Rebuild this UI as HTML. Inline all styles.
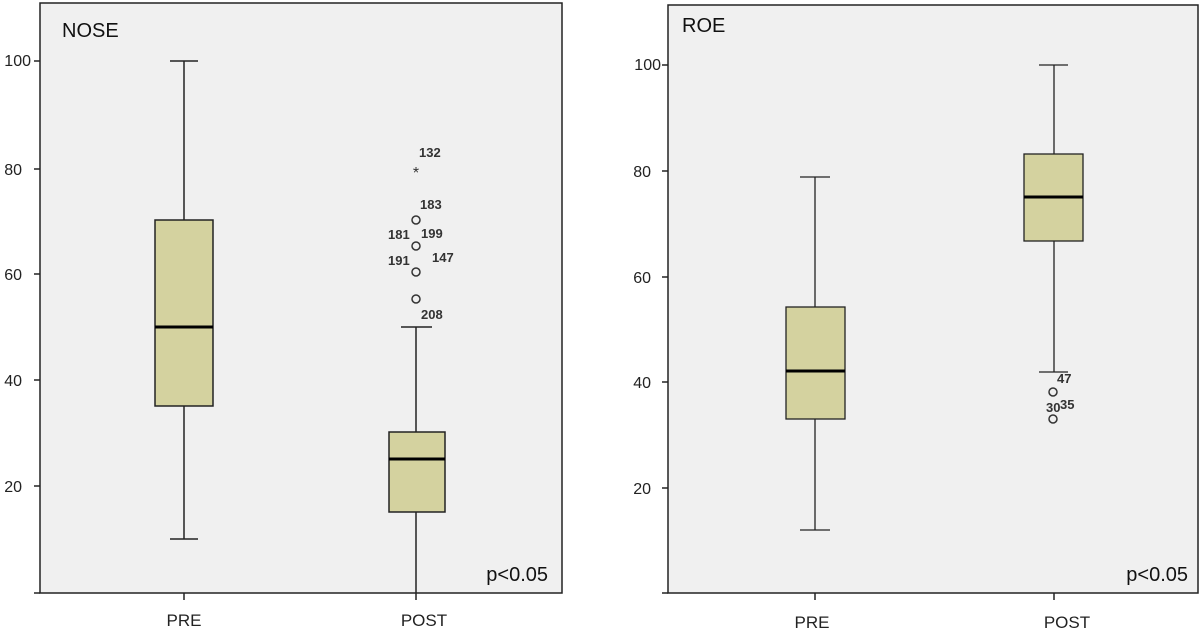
<!DOCTYPE html>
<html><head><style>body{margin:0;background:#fff}svg{display:block}</style></head>
<body>
<svg width="1200" height="631" xmlns="http://www.w3.org/2000/svg" font-family="Liberation Sans, sans-serif">
<!-- LEFT PANEL -->
<rect x="40" y="3" width="522" height="590" fill="#f0f0f0" stroke="#222" stroke-width="1.5"/>
<g stroke="#222" stroke-width="1.5">
<line x1="34" y1="61" x2="40" y2="61"/><line x1="34" y1="169" x2="40" y2="169"/><line x1="34" y1="274" x2="40" y2="274"/><line x1="34" y1="380" x2="40" y2="380"/><line x1="34" y1="486" x2="40" y2="486"/><line x1="34" y1="593" x2="40" y2="593"/>
<line x1="184" y1="593" x2="184" y2="600"/><line x1="416" y1="593" x2="416" y2="600"/>
</g>
<g font-size="16" fill="#222" text-anchor="end">
<text x="31" y="66">100</text><text x="22" y="175">80</text><text x="22" y="280">60</text><text x="22" y="386">40</text><text x="22" y="492">20</text>
</g>
<text x="62" y="37" font-size="20" fill="#111">NOSE</text>
<text x="548" y="581" font-size="20" fill="#111" text-anchor="end">p&lt;0.05</text>
<text x="184" y="626" font-size="17" fill="#222" text-anchor="middle">PRE</text>
<text x="424" y="626" font-size="17" fill="#222" text-anchor="middle">POST</text>
<g stroke="#222" stroke-width="1.5" fill="none">
<line x1="184" y1="61" x2="184" y2="220"/><line x1="170" y1="61" x2="198" y2="61"/>
<line x1="184" y1="406" x2="184" y2="539"/><line x1="170" y1="539" x2="198" y2="539"/>
<line x1="416" y1="327" x2="416" y2="432"/><line x1="401" y1="327" x2="432" y2="327"/>
<line x1="416" y1="512" x2="416" y2="593"/>
</g>
<rect x="155" y="220" width="58" height="186" fill="#d4d29f" stroke="#222" stroke-width="1.5"/>
<line x1="155" y1="327" x2="213" y2="327" stroke="#000" stroke-width="3"/>
<rect x="389" y="432" width="56" height="80" fill="#d4d29f" stroke="#222" stroke-width="1.5"/>
<line x1="389" y1="459" x2="445" y2="459" stroke="#000" stroke-width="3"/>
<g fill="none" stroke="#333" stroke-width="1.5">
<circle cx="416" cy="220" r="4"/><circle cx="416" cy="246" r="4"/><circle cx="416" cy="272" r="4"/><circle cx="416" cy="299" r="4"/>
</g>
<text x="416" y="178" font-size="16" fill="#333" text-anchor="middle">*</text>
<g font-size="13" font-weight="bold" fill="#333">
<text x="419" y="157">132</text><text x="420" y="209">183</text><text x="388" y="239">181</text><text x="421" y="238">199</text>
<text x="388" y="265">191</text><text x="432" y="262">147</text><text x="421" y="319">208</text>
</g>
<!-- RIGHT PANEL -->
<rect x="668" y="5" width="530" height="588" fill="#f0f0f0" stroke="#222" stroke-width="1.5"/>
<g stroke="#222" stroke-width="1.5">
<line x1="662" y1="65" x2="668" y2="65"/><line x1="662" y1="171" x2="668" y2="171"/><line x1="662" y1="277" x2="668" y2="277"/><line x1="662" y1="382" x2="668" y2="382"/><line x1="662" y1="488" x2="668" y2="488"/><line x1="662" y1="593" x2="668" y2="593"/>
<line x1="815" y1="593" x2="815" y2="600"/><line x1="1054" y1="593" x2="1054" y2="600"/>
</g>
<g font-size="16" fill="#222" text-anchor="end">
<text x="661" y="70">100</text><text x="651" y="177">80</text><text x="651" y="283">60</text><text x="651" y="388">40</text><text x="651" y="494">20</text>
</g>
<text x="682" y="32" font-size="20" fill="#111">ROE</text>
<text x="1188" y="581" font-size="20" fill="#111" text-anchor="end">p&lt;0.05</text>
<text x="812" y="628" font-size="17" fill="#222" text-anchor="middle">PRE</text>
<text x="1067" y="628" font-size="17" fill="#222" text-anchor="middle">POST</text>
<g stroke="#222" stroke-width="1.3" fill="none">
<line x1="815" y1="177" x2="815" y2="307"/><line x1="800" y1="177" x2="830" y2="177"/>
<line x1="815" y1="419" x2="815" y2="530"/><line x1="800" y1="530" x2="830" y2="530"/>
<line x1="1054" y1="65" x2="1054" y2="154"/><line x1="1039" y1="65" x2="1068" y2="65"/>
<line x1="1054" y1="241" x2="1054" y2="372"/><line x1="1039" y1="372" x2="1068" y2="372"/>
</g>
<rect x="786" y="307" width="59" height="112" fill="#d4d29f" stroke="#222" stroke-width="1.3"/>
<line x1="786" y1="371" x2="845" y2="371" stroke="#000" stroke-width="3"/>
<rect x="1024" y="154" width="59" height="87" fill="#d4d29f" stroke="#222" stroke-width="1.3"/>
<line x1="1024" y1="197" x2="1083" y2="197" stroke="#000" stroke-width="3"/>
<g fill="none" stroke="#333" stroke-width="1.5">
<circle cx="1053" cy="392" r="4"/><circle cx="1053" cy="419" r="4"/>
</g>
<g font-size="13" font-weight="bold" fill="#333">
<text x="1057" y="383">47</text><text x="1046" y="412">30</text><text x="1060" y="409">35</text>
</g>
</svg>
</body></html>
